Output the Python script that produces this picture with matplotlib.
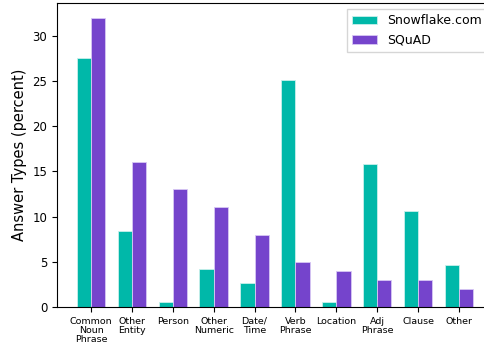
import numpy as np
import matplotlib
matplotlib.use('Agg')
import matplotlib.pyplot as plt

categories = ['Common\nNoun\nPhrase', 'Other\nEntity', 'Person', 'Other\nNumeric', 'Date/\nTime',
              'Verb\nPhrase', 'Location', 'Adj\nPhrase', 'Clause', 'Other']
snowflake = [27.5, 8.4, 0.5, 4.2, 2.7, 25.1, 0.5, 15.8, 10.6, 4.6]
squad = [32, 16, 13, 11, 8, 5, 4, 3, 3, 2]

x = np.arange(len(categories))
width = 0.35

fig = plt.figure(figsize=(4.85, 3.43), dpi=100)
ax = fig.add_axes([0.1175, 0.105, 0.899, 0.886])
ax.bar(x - width / 2, snowflake, width, color='#00B8A9', edgecolor='#c8f0ec', linewidth=0.6, label='Snowflake.com')
ax.bar(x + width / 2, squad, width, color='#7544CC', edgecolor='#d8c8f4', linewidth=0.6, label='SQuAD')

ax.set_xticks(x)
ax.set_xticklabels(categories, fontsize=6.8, linespacing=1.05)
ax.tick_params(axis='y', labelsize=8.5)
ax.set_ylabel('Answer Types (percent)', fontsize=10.5)
ax.legend(fontsize=9, loc='upper right', fancybox=False, borderaxespad=0.5)

fig.savefig('out.png', dpi=100)
